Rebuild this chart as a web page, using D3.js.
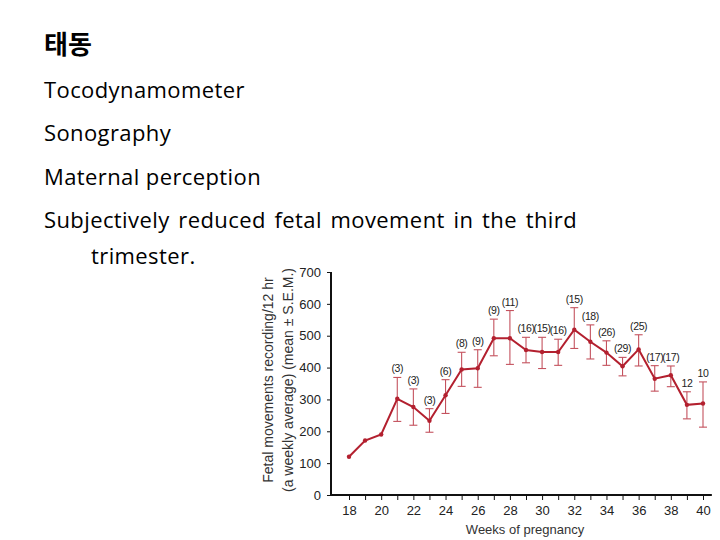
<!DOCTYPE html>
<html>
<head>
<meta charset="utf-8">
<script src="https://cdn.jsdelivr.net/npm/d3@7"></script>
<style>
  body { margin: 0; background: #fff; }
  svg { display: block; }
</style>
</head>
<body>
<svg width="720" height="540"></svg>
<script>
var width = 720, height = 540;

// header text
var title = "태동";
var bullets = ["Tocodynamometer", "Sonography", "Maternal perception", "Subjectively reduced fetal movement in the third"];
var bulletTail = "trimester.";

// chart data
var weeks = [18, 19, 20, 21, 22, 23, 24, 25, 26, 27, 28, 29, 30, 31, 32, 33, 34, 35, 36, 37, 38, 39, 40];
var means = [120, 171, 190, 302, 276, 233, 313, 394, 398, 492, 492, 455, 449, 449, 519, 481, 447, 404, 457, 365, 376, 283, 287];
var upper = [null, null, null, 369, 333, 271, 362, 448, 456, 552, 579, 495, 495, 489, 588, 534, 484, 432, 503, 406, 405, 324, 355];
var lower = [null, null, null, 231, 219, 197, 256, 341, 338, 437, 410, 415, 397, 407, 460, 427, 407, 374, 405, 326, 340, 239, 213];
var counts = [null, null, null, "(3)", "(3)", "(3)", "(6)", "(8)", "(9)", "(9)", "(11)", "(16)", "(15)", "(16)", "(15)", "(18)", "(26)", "(29)", "(25)", "(17)", "(17)", "12", "10"];
var yTicks = [0, 100, 200, 300, 400, 500, 600, 700];
var xTickLabels = [18, 20, 22, 24, 26, 28, 30, 32, 34, 36, 38, 40];

var svg = d3.select("svg");

// ---- header ----
svg.append("text")
    .attr("x", 44).attr("y", 54)
    .attr("font-family", "'Noto Sans CJK KR'")
    .attr("font-weight", "bold")
    .attr("font-size", 26)
    .attr("fill", "#000")
    .text(title);

var lines = svg.append("g")
    .attr("font-family", "'Open Sans', 'Noto Sans'")
    .attr("font-size", 22)
    .attr("letter-spacing", 0.4)
    .attr("fill", "#000");

lines.selectAll("text")
    .data(bullets)
    .enter().append("text")
    .attr("x", 44)
    .attr("y", function (d, i) { return 98 + i * 43.3; })
    .text(function (d) { return d; });

// stretch the long line like justified text
var longLine = lines.selectAll("text").filter(function (d, i) { return i == 3; });
var natural = longLine.node().getComputedTextLength();
var gaps = bullets[3].split(" ").length - 1;
longLine.attr("word-spacing", Math.max(0, (533 - natural) / gaps));

lines.append("text")
    .attr("x", 91).attr("y", 264)
    .text(bulletTail);

// ---- chart ----
var axisX = 331;
var x = d3.scaleLinear().domain([18, 40]).range([349, 703]);
var y = d3.scaleLinear().domain([0, 700]).range([495, 272]);

var chart = svg.append("g")
    .attr("font-family", "'Liberation Sans', Arial, sans-serif");

// y axis
var yAxis = chart.append("g")
    .attr("transform", "translate(" + axisX + ",0)")
    .call(d3.axisLeft(y).tickValues(yTicks).tickSize(4).tickSizeOuter(0).tickPadding(6));
yAxis.select(".domain").remove();
yAxis.selectAll("text").attr("font-size", 13).attr("fill", "#222").attr("font-family", null);
yAxis.selectAll("line").attr("stroke", "#111");

// x axis
var xAxis = chart.append("g")
    .attr("transform", "translate(0," + y(0) + ")")
    .call(d3.axisBottom(x).tickValues(weeks).tickSize(5).tickSizeOuter(0).tickPadding(6)
        .tickFormat(function (d) { return xTickLabels.indexOf(d) >= 0 ? d : ""; }));
xAxis.select(".domain").remove();
xAxis.selectAll("text").attr("font-size", 13).attr("fill", "#222").attr("font-family", null);
xAxis.selectAll("line").attr("stroke", "#111");

// axis lines
chart.append("line")
    .attr("x1", axisX).attr("x2", axisX)
    .attr("y1", y(700)).attr("y2", y(0) + 1)
    .attr("stroke", "#111").attr("stroke-width", 2);
chart.append("line")
    .attr("x1", axisX - 1).attr("x2", x(40.55))
    .attr("y1", y(0)).attr("y2", y(0))
    .attr("stroke", "#111").attr("stroke-width", 2);

// axis titles
chart.append("text")
    .attr("x", 525).attr("y", 534)
    .attr("text-anchor", "middle")
    .attr("font-size", 13)
    .attr("fill", "#333")
    .text("Weeks of pregnancy");

var yTitle = chart.append("text")
    .attr("transform", "translate(273,380) rotate(-90)")
    .attr("text-anchor", "middle")
    .attr("font-size", 14)
    .attr("fill", "#333");
yTitle.append("tspan").attr("x", 0).attr("dy", 0).text("Fetal movements recording/12 hr");
yTitle.append("tspan").attr("x", 0).attr("dy", 20).text("(a weekly average) (mean \u00b1 S.E.M.)");

var points = weeks.map(function (w, i) {
    return { week: w, mean: means[i], hi: upper[i], lo: lower[i], n: counts[i] };
});
var withErr = points.filter(function (d) { return d.hi != null; });

// error bars
var errColor = "#c4525e";
var bars = chart.append("g").attr("stroke", errColor).attr("stroke-width", 1.1);
bars.selectAll(".stem").data(withErr).enter().append("line")
    .attr("x1", function (d) { return x(d.week); })
    .attr("x2", function (d) { return x(d.week); })
    .attr("y1", function (d) { return y(d.hi); })
    .attr("y2", function (d) { return y(d.lo); });
bars.selectAll(".capHi").data(withErr).enter().append("line")
    .attr("x1", function (d) { return x(d.week) - 4; })
    .attr("x2", function (d) { return x(d.week) + 4; })
    .attr("y1", function (d) { return y(d.hi); })
    .attr("y2", function (d) { return y(d.hi); });
bars.selectAll(".capLo").data(withErr).enter().append("line")
    .attr("x1", function (d) { return x(d.week) - 4; })
    .attr("x2", function (d) { return x(d.week) + 4; })
    .attr("y1", function (d) { return y(d.lo); })
    .attr("y2", function (d) { return y(d.lo); });

// mean line
var lineColor = "#b3202f";
chart.append("path")
    .datum(points)
    .attr("fill", "none")
    .attr("stroke", lineColor)
    .attr("stroke-width", 2)
    .attr("d", d3.line()
        .x(function (d) { return x(d.week); })
        .y(function (d) { return y(d.mean); }));

chart.selectAll(".dot").data(points).enter().append("circle")
    .attr("cx", function (d) { return x(d.week); })
    .attr("cy", function (d) { return y(d.mean); })
    .attr("r", 2.2)
    .attr("fill", lineColor);

// sample size labels
chart.selectAll(".count").data(withErr).enter().append("text")
    .attr("x", function (d) { return x(d.week); })
    .attr("y", function (d) { return y(d.hi) - 5; })
    .attr("text-anchor", "middle")
    .attr("font-size", 10.5)
    .attr("letter-spacing", -0.4)
    .attr("fill", "#222")
    .text(function (d) { return d.n; });
</script>
</body>
</html>
